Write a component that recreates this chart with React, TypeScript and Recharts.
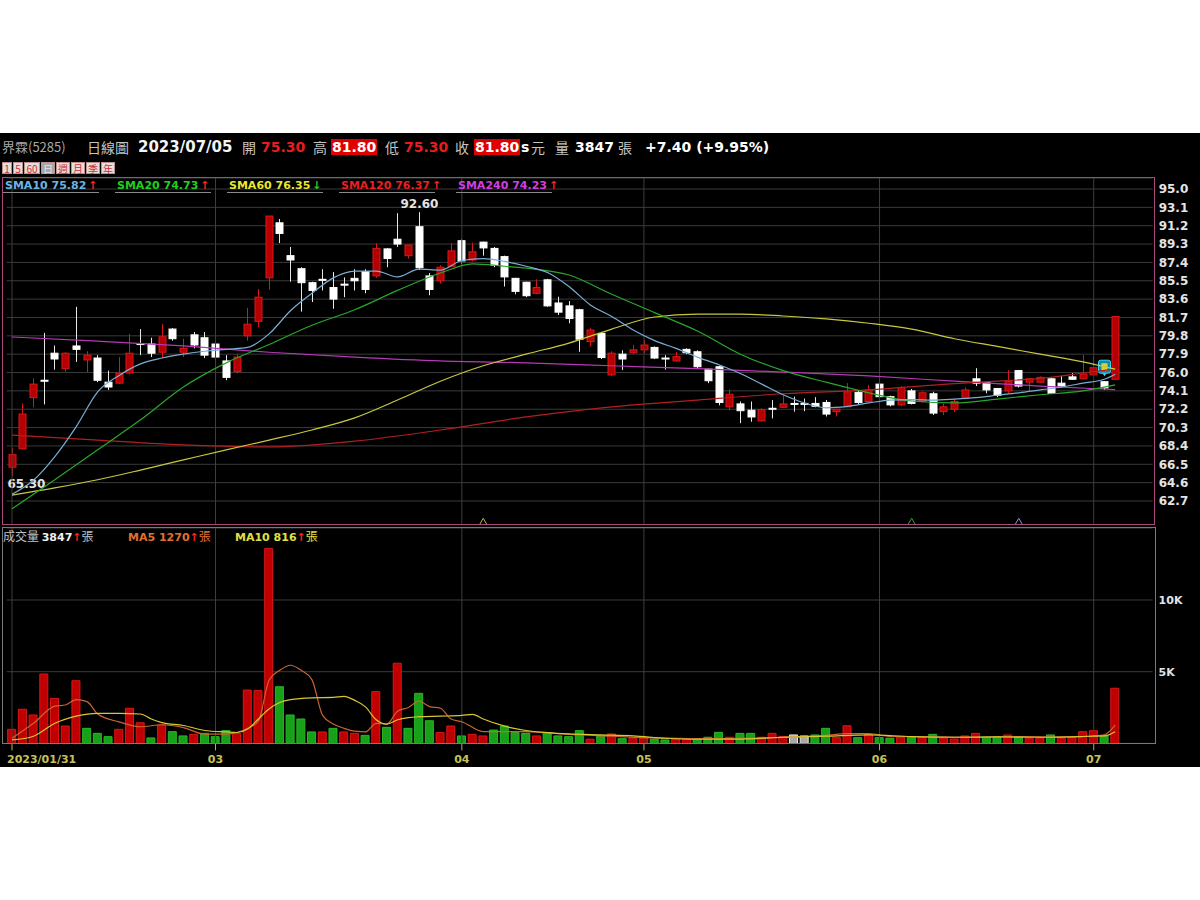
import React from "react";
import {
  ComposedChart,
  Bar,
  Line,
  XAxis,
  YAxis,
  CartesianGrid,
  ReferenceLine,
  ReferenceDot,
  Cell,
} from "recharts";

// daily candles, 2023/01/31 .. 2023/07/05
const opens = [
  66.2, 68.1, 73.4, 75.2, 78.0, 76.4, 78.75, 77.3, 77.5, 75.0,
  74.9, 75.95, 79.0, 78.95, 78.1, 80.5, 78.1, 79.9, 79.6, 78.95,
  77.2, 76.1, 79.8, 81.3, 85.8, 91.5, 88.1, 86.75, 85.3, 85.65,
  84.8, 85.15, 85.75, 86.45, 86.0, 88.8, 89.8, 88.1, 91.1, 86.0,
  85.5, 87.0, 89.65, 87.65, 89.5, 88.85, 88.0, 85.75, 85.35, 84.2,
  85.6, 83.2, 82.9, 82.5, 79.2, 80.05, 75.75, 77.9, 78.05, 78.35,
  78.6, 77.5, 77.2, 78.4, 78.15, 76.35, 76.6, 72.45, 72.75, 72.1,
  71.0, 72.3, 72.4, 72.8, 72.75, 72.8, 72.9, 71.95, 72.45, 73.95,
  73.0, 74.8, 73.5, 72.65, 74.1, 73.0, 73.8, 71.95, 72.2, 73.35,
  75.35, 74.95, 74.35, 74.1, 76.2, 75.0, 75.0, 75.35, 74.9, 75.55,
  75.35, 75.75, 75.05, 75.3,
];
const highs = [
  68.2, 72.8, 75.4, 80.1, 78.8, 78.1, 82.8, 78.2, 77.8, 76.2,
  77.6, 80.0, 80.5, 79.6, 81.0, 80.6, 79.5, 80.2, 80.2, 79.2,
  77.8, 77.9, 82.7, 84.65, 92.2, 91.9, 89.0, 86.9, 85.4, 86.7,
  86.4, 85.85, 86.7, 86.7, 89.4, 88.9, 92.5, 89.2, 92.6, 86.3,
  87.1, 89.4, 89.8, 89.45, 89.55, 89.0, 88.1, 85.8, 85.4, 85.65,
  85.7, 83.85, 83.4, 82.6, 80.6, 80.1, 78.2, 78.3, 78.85, 79.35,
  78.7, 77.8, 78.15, 78.5, 78.3, 76.4, 76.7, 74.25, 73.0, 73.0,
  72.3, 73.15, 73.65, 73.5, 73.3, 73.45, 73.15, 72.2, 74.9, 74.2,
  74.7, 74.9, 73.6, 74.6, 74.3, 74.05, 74.0, 72.8, 73.3, 74.45,
  76.45, 75.0, 74.4, 76.25, 76.25, 75.4, 75.6, 75.5, 75.65, 75.95,
  77.8, 77.65, 75.1, 81.8,
];
const lows = [
  65.3, 68.0, 72.4, 72.7, 76.3, 76.1, 77.1, 76.05, 75.0, 74.2,
  74.8, 75.8, 77.8, 77.6, 77.5, 79.3, 77.6, 78.5, 77.5, 77.5,
  75.2, 75.9, 79.3, 80.7, 84.6, 89.4, 85.4, 82.3, 83.3, 84.5,
  82.6, 83.8, 84.5, 84.2, 85.8, 86.9, 89.0, 87.8, 86.6, 84.0,
  85.2, 86.9, 87.2, 87.5, 88.1, 86.9, 84.9, 84.1, 83.8, 84.1,
  82.8, 81.95, 81.1, 78.15, 78.7, 77.4, 75.6, 76.25, 77.9, 78.0,
  77.4, 76.3, 77.1, 77.9, 76.35, 74.9, 72.6, 72.1, 70.75, 70.9,
  70.9, 71.25, 72.35, 71.95, 72.0, 72.4, 71.45, 71.45, 72.4, 72.65,
  72.95, 73.4, 72.5, 72.5, 72.7, 72.9, 71.6, 71.6, 71.9, 73.3,
  74.6, 73.85, 73.45, 73.85, 74.45, 74.0, 74.95, 73.8, 74.45, 75.25,
  75.3, 75.7, 74.2, 75.3,
];
const closes = [
  67.5, 71.7, 74.8, 75.1, 77.4, 78.0, 78.4, 77.8, 75.2, 74.5,
  75.95, 78.0, 78.9, 78.0, 79.7, 79.5, 78.5, 78.85, 77.8, 77.6,
  75.5, 77.6, 81.0, 83.8, 92.2, 90.4, 87.65, 85.3, 84.5, 85.6,
  83.6, 85.1, 85.5, 84.6, 88.85, 87.8, 89.3, 89.2, 86.85, 84.6,
  86.9, 88.6, 87.55, 88.5, 88.9, 87.1, 85.9, 84.4, 83.95, 84.8,
  82.9, 82.25, 81.6, 79.45, 80.4, 77.55, 78.0, 77.4, 78.35, 78.85,
  77.5, 77.45, 77.65, 78.05, 76.6, 75.15, 72.9, 73.75, 72.05, 71.4,
  72.15, 72.25, 72.75, 72.75, 72.75, 72.5, 71.7, 72.2, 74.0, 72.9,
  74.2, 73.5, 72.65, 74.45, 72.8, 73.9, 71.8, 72.45, 73.0, 74.2,
  74.9, 74.2, 73.65, 75.1, 74.6, 75.35, 75.5, 73.85, 74.6, 75.3,
  75.85, 76.5, 74.4, 81.8,
];
const volumes = [
  980, 2380, 1980, 4840, 3140, 1210, 4370, 1050, 700, 470,
  980, 2450, 1440, 380, 1280, 820, 520, 630, 700, 470,
  890, 700, 3720, 3680, 13600, 3950, 1980, 1700, 800, 800,
  1050, 800, 700, 560, 3610, 1120, 5590, 1050, 3490, 1580,
  750, 1210, 520, 630, 520, 930, 1210, 750, 700, 520,
  750, 520, 470, 890, 290, 520, 660, 330, 360, 360,
  290, 240, 290, 290, 290, 430, 770, 430, 700, 700,
  430, 700, 480, 590, 520, 590, 1050, 400, 1230, 400,
  630, 400, 360, 430, 430, 400, 630, 360, 310, 520,
  700, 430, 430, 590, 430, 360, 360, 590, 360, 430,
  820, 890, 520, 3847,
];

// moving averages: [day index, value]
const sma10Pts: [number, number][] = [
  [0, 63.4], [2, 64.85], [4, 67.3], [6, 70.4], [8, 74.0], [10, 75.7], [12, 76.9], [14, 77.5],
  [16, 77.9], [18, 78.2], [20, 78.4], [22, 78.6], [24, 80.0], [26, 82.4], [28, 84.2], [30, 85.8],
  [32, 86.5], [34, 86.5], [36, 85.9], [38, 86.7], [40, 86.6], [42, 87.6], [44, 87.8], [46, 87.5],
  [48, 87.0], [50, 86.35], [52, 84.9], [54, 83.0], [56, 81.8], [58, 80.4], [60, 79.3], [62, 78.5],
  [64, 77.6], [66, 76.8], [68, 75.9], [70, 74.8], [72, 73.7], [74, 72.85], [76, 72.35], [78, 72.5],
  [80, 72.85], [82, 73.15], [84, 73.2], [86, 73.15], [88, 73.25], [90, 73.4], [92, 73.65], [94, 73.9],
  [96, 74.2], [98, 74.5], [100, 74.9], [102, 75.3], [103, 75.82],
];
const sma20Pts: [number, number][] = [
  [0, 61.9], [4, 64.9], [8, 68.0], [12, 71.1], [16, 74.5], [20, 77.0], [24, 78.9], [28, 80.9],
  [32, 82.5], [36, 84.5], [40, 86.3], [43, 87.25], [46, 87.0], [48, 86.8], [52, 86.1], [56, 84.1],
  [60, 82.2], [64, 80.3], [68, 77.9], [72, 76.2], [76, 75.0], [80, 73.9], [84, 73.05], [88, 72.85],
  [92, 73.25], [96, 73.7], [100, 74.1], [103, 74.73],
];
const sma60Pts: [number, number][] = [
  [0, 63.3], [4, 64.05], [8, 64.9], [12, 65.9], [16, 66.95], [20, 68.0], [24, 69.0], [28, 70.05],
  [32, 71.3], [36, 73.15], [40, 75.1], [44, 76.7], [48, 77.9], [52, 79.05], [56, 80.5], [60, 81.75],
  [64, 82.05], [68, 82.05], [72, 81.85], [76, 81.55], [80, 81.1], [84, 80.5], [88, 79.5], [92, 78.7],
  [96, 77.9], [100, 77.1], [103, 76.35],
];
const sma120Pts: [number, number][] = [
  [0, 69.53], [8, 69.0], [16, 68.5], [24, 68.3], [32, 68.9], [40, 70.05], [48, 71.4], [56, 72.45],
  [64, 73.15], [72, 73.8], [80, 74.2], [88, 74.85], [92, 75.1], [96, 75.4], [100, 75.95], [103, 76.37],
];
const sma240Pts: [number, number][] = [
  [0, 79.68], [8, 79.25], [16, 78.75], [24, 78.1], [32, 77.6], [40, 77.2], [48, 77.0], [56, 76.7],
  [64, 76.4], [72, 76.05], [80, 75.65], [88, 75.1], [96, 74.6], [103, 74.23],
];
const volMa5Pts: [number, number][] = [
  [0, 360], [2, 1400], [4, 2600], [5, 2680], [6, 3050], [7, 2910], [8, 2050], [10, 1500],
  [12, 1160], [14, 1300], [16, 1100], [18, 650], [20, 650], [22, 1050], [23, 1550], [24, 4400],
  [25, 5100], [26, 5450], [27, 5100], [28, 4450], [29, 1950], [30, 1350], [31, 1050], [32, 850],
  [33, 800], [34, 1400], [35, 1350], [36, 2250], [37, 2500], [38, 2950], [39, 2560], [40, 2450],
  [41, 1700], [42, 1510], [44, 820], [48, 820], [52, 620], [56, 500], [60, 380], [64, 330],
  [68, 360], [72, 420], [76, 560], [78, 680], [80, 690], [82, 480], [86, 460], [90, 430],
  [94, 480], [98, 440], [100, 480], [101, 520], [102, 600], [103, 1270],
];
const volMa10Pts: [number, number][] = [
  [0, 240], [2, 500], [4, 1400], [6, 1900], [8, 2100], [10, 2100], [12, 2050], [13, 1700],
  [14, 1450], [16, 1250], [18, 900], [20, 800], [21, 760], [22, 1000], [23, 1700], [24, 2400],
  [25, 2850], [26, 3050], [28, 3180], [30, 3210], [31, 3280], [32, 3000], [33, 2550], [34, 1650],
  [35, 1350], [36, 1650], [37, 1800], [38, 1860], [40, 1900], [42, 1950], [43, 2030], [44, 1700],
  [46, 1200], [48, 900], [50, 750], [52, 660], [55, 590], [58, 520], [61, 360], [64, 290],
  [68, 300], [72, 430], [76, 500], [80, 600], [84, 470], [88, 430], [92, 450], [96, 430],
  [100, 480], [101, 500], [102, 520], [103, 816],
];

const priceTicks = [62.7, 64.6, 66.5, 68.4, 70.3, 72.2, 74.1, 76.0, 77.9, 79.8, 81.7, 83.6, 85.5, 87.4, 89.3, 91.2, 93.1, 95.0];
const volTicks = [5000, 10000];
const monthIdx = [0, 19, 42, 59, 81, 101];
const monthLabels = ["2023/01/31", "03", "04", "05", "06", "07"];
const flagIdx = [102];
const signalIdx = [44, 84, 94];

const SLOTS = 107; // 104 trading days + empty room on the right
const FONT = "'DejaVu Sans', Verdana, sans-serif";
const CJK = "'Noto Sans CJK TC', 'Noto Sans', sans-serif";
const RED = "#b40000";
const RED_EDGE = "#d81818";

const asMap = (pts: [number, number][]) => new Map(pts);
const m10 = asMap(sma10Pts), m20 = asMap(sma20Pts), m60 = asMap(sma60Pts), m120 = asMap(sma120Pts), m240 = asMap(sma240Pts);
const mv5 = asMap(volMa5Pts), mv10 = asMap(volMa10Pts);

const rows = Array.from({ length: SLOTS }, (_, i) => {
  if (i >= closes.length) return { i };
  return {
    i,
    o: opens[i], h: highs[i], l: lows[i], c: closes[i],
    range: [lows[i], highs[i]],
    v: volumes[i],
    sma10: m10.get(i) ?? null, sma20: m20.get(i) ?? null, sma60: m60.get(i) ?? null,
    sma120: m120.get(i) ?? null, sma240: m240.get(i) ?? null,
    vma5: mv5.get(i) ?? null, vma10: mv10.get(i) ?? null,
  };
});

const hiIdx = highs.indexOf(Math.max(...highs));
const loIdx = lows.indexOf(Math.min(...lows));

function volColor(i: number) {
  const prev = i === 0 ? opens[0] : closes[i - 1];
  if (closes[i] > prev) return { fill: "#c00000", stroke: "#d81818" };
  if (closes[i] < prev) return { fill: "#18a018", stroke: "#28b828" };
  return { fill: "#a8a8a8", stroke: "#e8e8e8" };
}

function Candle(props: any) {
  const { x, y, width, height, payload } = props;
  if (!payload || payload.o == null) return null;
  const { o, h, l, c, i } = payload;
  const top = Math.min(y, y + height);
  const bot = Math.max(y, y + height);
  const toY = (v: number) => (h === l ? top : top + ((h - v) / (h - l)) * (bot - top));
  const cx = Math.round(x + width / 2) + 0.5;
  const up = c > o;
  const wick = up ? RED_EDGE : "#e8e8e8";
  const yT = toY(Math.max(o, c));
  const yB = toY(Math.min(o, c));
  return (
    <g>
      <line x1={cx} x2={cx} y1={top} y2={bot} stroke={wick} strokeWidth={1} />
      {c === o ? (
        <line x1={cx - 4} x2={cx + 4} y1={yT} y2={yT} stroke="#ffffff" strokeWidth={2} />
      ) : (
        <rect x={cx - 3.5} y={yT} width={7} height={Math.max(yB - yT, 1)} fill={up ? RED : "#ffffff"} stroke={up ? RED_EDGE : "#ffffff"} strokeWidth={1} />
      )}
      {i === hiIdx && (
        <text x={cx} y={top - 4} textAnchor="middle" fill="#e4e4e4" fontSize={12} fontWeight="bold" fontFamily={FONT}>
          {h.toFixed(2)}
        </text>
      )}
      {i === loIdx && (
        <text x={cx - 5} y={bot + 12} textAnchor="start" fill="#e4e4e4" fontSize={12} fontWeight="bold" fontFamily={FONT}>
          {l.toFixed(2)}
        </text>
      )}
      {flagIdx.includes(i) && (
        <g>
          <rect x={cx - 6} y={top - 21} width={12} height={13} rx={2} fill="#1689a6" stroke="#38dcf0" strokeWidth={1} />
          <rect x={cx - 3} y={top - 18} width={6} height={7} fill="#d8d040" />
          <path d={`M${cx - 2},${top - 8} L${cx},${top - 5} L${cx + 2},${top - 8}`} fill="#38dcf0" />
        </g>
      )}
    </g>
  );
}

const signalColors = ["#b8b848", "#30a830", "#8c98d8"];

function MonthTick({ x, y, payload }: any) {
  const k = monthIdx.indexOf(payload.value);
  const first = k === 0;
  return (
    <g>
      <line x1={x} x2={x} y1={y} y2={y + 7} stroke="#b8b050" strokeWidth={1} />
      <text x={first ? x - 5 : x} y={y + 20} textAnchor={first ? "start" : "middle"} fill="#c8c058" fontSize={11} fontWeight="bold" fontFamily={FONT}>
        {monthLabels[k]}
      </text>
    </g>
  );
}

const abs = (left: number, top: number, extra: React.CSSProperties = {}): React.CSSProperties => ({
  position: "absolute", left, top, whiteSpace: "nowrap", ...extra,
});

function Legend({ left, label, value, color, up }: { left: number; label: string; value: string; color: string; up: boolean }) {
  return (
    <div style={abs(left, 179, { width: 96, height: 13, borderBottom: "1px solid #8a8a8a", fontFamily: FONT, fontSize: 11, fontWeight: "bold", lineHeight: "13px", color })}>
      <span style={{ marginLeft: 2 }}>{label} {value}</span>
      <span style={{ color: up ? "#ff2020" : "#20d020", marginLeft: 2 }}>{up ? "↑" : "↓"}</span>
    </div>
  );
}

export default function App() {
  const gray = "#c4c4c4";
  const num = { fontFamily: FONT, fontSize: 14, fontWeight: "bold" as const, lineHeight: "16px" };
  const cjk = { fontFamily: CJK, fontSize: 14, color: gray, lineHeight: "16px" };
  const btn = (bg: string, fg: string, w: number): React.CSSProperties => ({
    display: "inline-block", width: w, height: 12, lineHeight: "12px", textAlign: "center", background: bg, color: fg,
    border: "1px solid #b89090", boxSizing: "border-box", fontSize: 10, fontFamily: CJK, marginRight: 1,
  });

  return (
    <div style={{ position: "absolute", left: 0, top: 0, width: 1200, height: 900, background: "#ffffff", overflow: "hidden" }}>
      <div style={{ position: "absolute", left: 0, top: 133, width: 1200, height: 634, background: "#000000" }} />

      {/* header */}
      <div style={abs(2, 139, { fontFamily: CJK, fontSize: 13, color: "#a8a8a8", lineHeight: "16px" })}>界霖(5285)</div>
      <div style={abs(87, 139, cjk)}>日線圖</div>
      <div style={abs(138, 139, { ...num, fontSize: 15, color: "#f4f4f4" })}>2023/07/05</div>
      <div style={abs(242, 139, cjk)}>開</div>
      <div style={abs(261, 139, { ...num, color: "#e81c1c" })}>75.30</div>
      <div style={abs(313, 139, cjk)}>高</div>
      <div style={abs(331, 139, { ...num, color: "#ffffff", background: "#e00000", padding: "0 1px" })}>81.80</div>
      <div style={abs(385, 139, cjk)}>低</div>
      <div style={abs(404, 139, { ...num, color: "#e81c1c" })}>75.30</div>
      <div style={abs(455, 139, cjk)}>收</div>
      <div style={abs(474, 139, { ...num, color: "#ffffff", background: "#e00000", padding: "0 1px" })}>81.80</div>
      <div style={abs(521, 139, { ...num, color: "#ffffff" })}>s</div>
      <div style={abs(531, 139, cjk)}>元</div>
      <div style={abs(555, 139, cjk)}>量</div>
      <div style={abs(575, 139, { ...num, color: "#ffffff" })}>3847</div>
      <div style={abs(618, 139, cjk)}>張</div>
      <div style={abs(645, 139, { ...num, color: "#ffffff" })}>+7.40 (+9.95%)</div>

      {/* period buttons */}
      <div style={abs(2, 162, { display: "flex" })}>
        <span style={btn("#e8dcdc", "#d03030", 10)}>1</span>
        <span style={btn("#e8dcdc", "#d03030", 10)}>5</span>
        <span style={btn("#e8dcdc", "#d03030", 16)}>60</span>
        <span style={btn("#a8a8a8", "#e4e4e4", 14)}>日</span>
        <span style={btn("#e8dcdc", "#d03030", 14)}>週</span>
        <span style={btn("#e8dcdc", "#d03030", 14)}>月</span>
        <span style={btn("#e8dcdc", "#d03030", 14)}>季</span>
        <span style={btn("#e8dcdc", "#d03030", 14)}>年</span>
      </div>

      {/* price panel */}
      <div style={abs(0, 178)}>
        <ComposedChart width={1200} height={347} data={rows} margin={{ top: 0, right: 0, bottom: 0, left: 6.65 }}>
          <CartesianGrid vertical={false} stroke="#3a3a3a" />
          <XAxis dataKey="i" type="category" hide />
          <YAxis
            orientation="right"
            type="number"
            domain={[60.214, 96.139]}
            allowDataOverflow
            ticks={priceTicks}
            interval={0}
            width={47.35}
            tickLine={false}
            axisLine={false}
            tickMargin={0}
            tickFormatter={(v: number) => v.toFixed(1)}
            tick={{ fill: "#e4e4e4", fontSize: 12, fontWeight: "bold", fontFamily: FONT }}
          />
          {monthIdx.map((m) => (
            <ReferenceLine key={m} x={m} stroke="#3e3e3e" />
          ))}
          <Bar dataKey="range" barSize={8} shape={(p: any) => <Candle {...p} />} isAnimationActive={false} />
          <Line dataKey="sma240" stroke="#b838b8" strokeWidth={1.2} dot={false} connectNulls type="monotone" isAnimationActive={false} />
          <Line dataKey="sma120" stroke="#b02020" strokeWidth={1.2} dot={false} connectNulls type="monotone" isAnimationActive={false} />
          <Line dataKey="sma60" stroke="#c8c840" strokeWidth={1.2} dot={false} connectNulls type="monotone" isAnimationActive={false} />
          <Line dataKey="sma20" stroke="#28a828" strokeWidth={1.2} dot={false} connectNulls type="monotone" isAnimationActive={false} />
          <Line dataKey="sma10" stroke="#78aed4" strokeWidth={1.2} dot={false} connectNulls type="monotone" isAnimationActive={false} />
          {signalIdx.map((s, k) => (
            <ReferenceDot
              key={s}
              x={s}
              y={60.6}
              r={0}
              ifOverflow="visible"
              shape={(p: any) => (
                <polyline
                  points={`${p.cx - 3.5},${p.cy + 3} ${p.cx},${p.cy - 3} ${p.cx + 3.5},${p.cy + 3}`}
                  fill="none"
                  stroke={signalColors[k]}
                  strokeWidth={1}
                />
              )}
            />
          ))}
        </ComposedChart>
      </div>
      <div style={abs(2, 177, { width: 1153, height: 348, border: "1px solid #a8487c", boxSizing: "border-box", pointerEvents: "none" })} />

      <Legend left={3} label="SMA10" value="75.82" color="#6cb4e4" up />
      <Legend left={115} label="SMA20" value="74.73" color="#20d020" up />
      <Legend left={227} label="SMA60" value="76.35" color="#e8e830" up={false} />
      <Legend left={339} label="SMA120" value="76.37" color="#e82020" up />
      <Legend left={456} label="SMA240" value="74.23" color="#d040e0" up />

      {/* volume panel */}
      <div style={abs(0, 528)}>
        <ComposedChart width={1200} height={239.4} data={rows} margin={{ top: 0, right: 0, bottom: 0, left: 6.65 }}>
          <CartesianGrid vertical={false} stroke="#3a3a3a" />
          <XAxis
            dataKey="i"
            type="category"
            ticks={monthIdx}
            interval={0}
            height={24}
            tickLine={false}
            axisLine={false}
            tickSize={0}
            tickMargin={0}
            tick={(p: any) => <MonthTick {...p} />}
          />
          <YAxis
            orientation="right"
            type="number"
            domain={[0, 15021]}
            allowDataOverflow
            ticks={volTicks}
            interval={0}
            width={47.35}
            tickLine={false}
            axisLine={false}
            tickMargin={0}
            tickFormatter={(v: number) => `${v / 1000}K`}
            tick={{ fill: "#e4e4e4", fontSize: 11, fontWeight: "bold", fontFamily: FONT }}
          />
          {monthIdx.map((m) => (
            <ReferenceLine key={m} x={m} stroke="#3e3e3e" />
          ))}
          <Bar dataKey="v" barSize={8} isAnimationActive={false}>
            {rows.map((r, i) => {
              const col = i < closes.length ? volColor(i) : { fill: "none", stroke: "none" };
              return <Cell key={i} fill={col.fill} stroke={col.stroke} strokeWidth={1} />;
            })}
          </Bar>
          <Line dataKey="vma5" stroke="#c86430" strokeWidth={1.2} dot={false} connectNulls type="monotone" isAnimationActive={false} />
          <Line dataKey="vma10" stroke="#d8c830" strokeWidth={1.2} dot={false} connectNulls type="monotone" isAnimationActive={false} />
        </ComposedChart>
      </div>
      <div style={abs(2, 527, { width: 1154, height: 217, border: "1px solid #7a7a7a", boxSizing: "border-box", pointerEvents: "none" })} />

      <div style={abs(3, 529, { fontSize: 11, lineHeight: "14px", fontWeight: "bold", fontFamily: FONT })}>
        <span style={{ fontFamily: CJK, fontWeight: "normal", fontSize: 12, color: "#c0c0c0" }}>成交量 </span>
        <span style={{ color: "#f0f0f0" }}>3847</span>
        <span style={{ color: "#ff2020" }}>↑</span>
        <span style={{ fontFamily: CJK, fontWeight: "normal", fontSize: 12, color: "#c0c0c0" }}>張</span>
      </div>
      <div style={abs(128, 529, { fontSize: 11, lineHeight: "14px", fontWeight: "bold", fontFamily: FONT, color: "#e07030" })}>
        MA5 1270<span style={{ color: "#ff2020" }}>↑</span>
        <span style={{ fontFamily: CJK, fontWeight: "normal", fontSize: 12 }}>張</span>
      </div>
      <div style={abs(235, 529, { fontSize: 11, lineHeight: "14px", fontWeight: "bold", fontFamily: FONT, color: "#e0e040" })}>
        MA10 816<span style={{ color: "#ff2020" }}>↑</span>
        <span style={{ fontFamily: CJK, fontWeight: "normal", fontSize: 12 }}>張</span>
      </div>
    </div>
  );
}
